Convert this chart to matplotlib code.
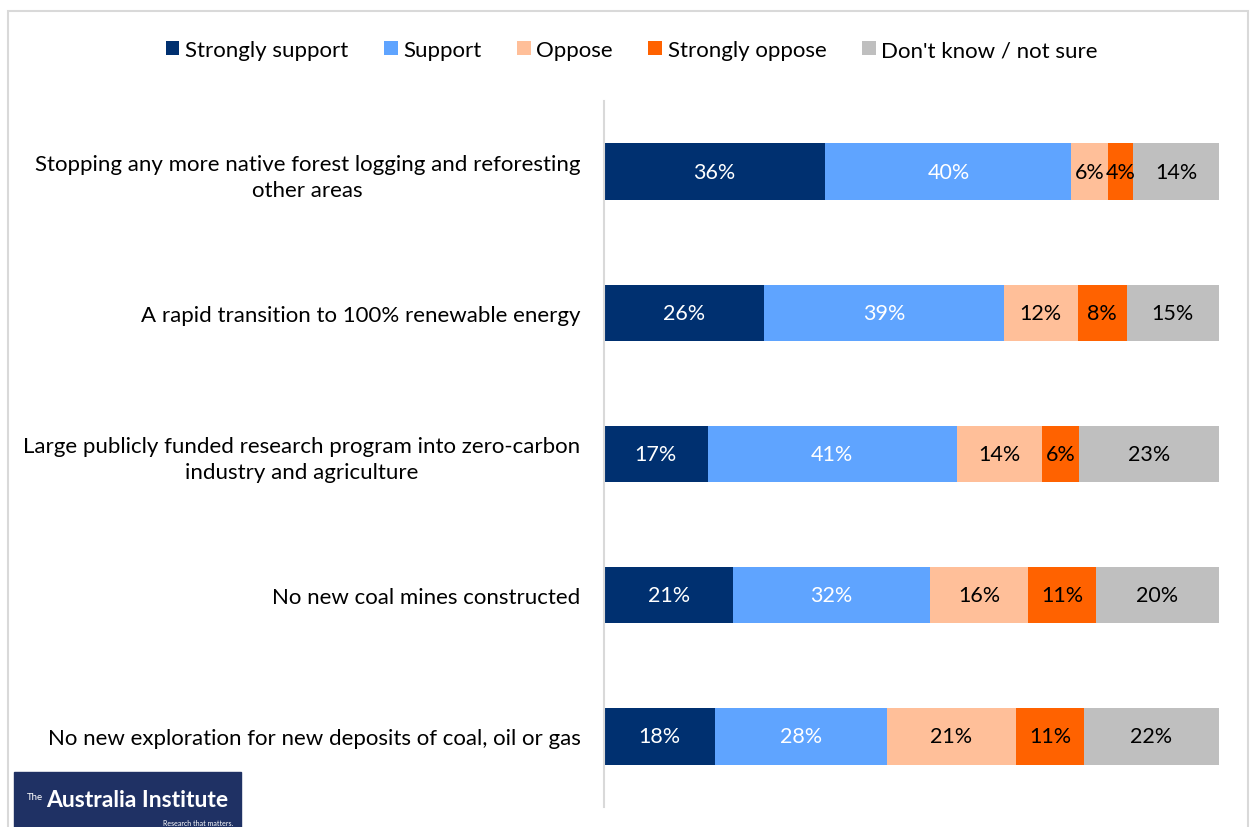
import numpy as np
import matplotlib.pyplot as plt
from matplotlib.patches import Rectangle

plt.rcParams['font.family'] = ['Lato', 'DejaVu Sans']

categories = [
    "Stopping any more native forest logging and reforesting\nother areas",
    "A rapid transition to 100% renewable energy",
    "Large publicly funded research program into zero-carbon\nindustry and agriculture",
    "No new coal mines constructed",
    "No new exploration for new deposits of coal, oil or gas",
]
series = ["Strongly support", "Support", "Oppose", "Strongly oppose", "Don't know / not sure"]
strongly_support = [36, 26, 17, 21, 18]
support = [40, 39, 41, 32, 28]
oppose = [6, 12, 14, 16, 21]
strongly_oppose = [4, 8, 6, 11, 11]
dont_know = [14, 15, 23, 20, 22]

colors = ['#003070', '#5FA4FF', '#FFBF99', '#FF6200', '#BFBFBF']
text_colors = ['white', 'white', 'black', 'black', 'black']

values = np.array([strongly_support, support, oppose, strongly_oppose, dont_know], dtype=float)
shares = values / values.sum(axis=0)  # 100% stacked

fig = plt.figure(figsize=(12.51, 8.28), dpi=100)
W, H = 1251, 828
ax = fig.add_axes([604 / W, 1 - 808 / H, (1219 - 604) / W, (808 - 102) / H])

y = np.arange(len(categories))
left = np.zeros(len(categories))
for i, name in enumerate(series):
    ax.barh(y, shares[i], left=left, height=0.4, color=colors[i], label=name)
    for j in range(len(categories)):
        ax.text(left[j] + shares[i][j] / 2, y[j], f"{int(values[i][j])}%",
                ha='center', va='center', fontsize=15.5, color=text_colors[i])
    left += shares[i]

ax.set_xlim(0, 1)
ax.set_ylim(len(categories) - 0.5, -0.5)
ax.set_yticks(y)
ax.set_yticklabels(categories, fontsize=16, multialignment='center', linespacing=1.4)
ax.tick_params(axis='y', length=0, pad=17)
ax.set_xticks([])
for s in ['top', 'right', 'bottom']:
    ax.spines[s].set_visible(False)
ax.spines['left'].set_color('#D9D9D9')
ax.spines['left'].set_linewidth(1.5)

fig.legend(loc='center', bbox_to_anchor=(0.505, 1 - 51 / H), ncol=5, frameon=False,
           fontsize=16, handlelength=0.62, handleheight=0.62, handletextpad=0.25,
           columnspacing=1.6)

# figure border
fig.patches.append(Rectangle((8 / W, -0.01), (1248 - 8) / W, 1 - 12 / H + 0.01,
                             transform=fig.transFigure, fill=False,
                             edgecolor='#D9D9D9', linewidth=1.5))

# logo box
fig.patches.append(Rectangle((14 / W, 0), (241 - 14) / W, (828 - 773) / H,
                             transform=fig.transFigure, color='#1F3164'))
fig.text(27 / W, 1 - 798 / H, "The", color='white', fontsize=7, va='center', ha='left')
fig.text(46 / W, 1 - 801 / H, "Australia Institute", color='white', fontsize=16.5,
         va='center', ha='left', fontweight='bold')
fig.text(233 / W, 1 - 824 / H, "Research that matters.", color='white', fontsize=5,
         va='center', ha='right')

fig.savefig('out.png', dpi=100)
